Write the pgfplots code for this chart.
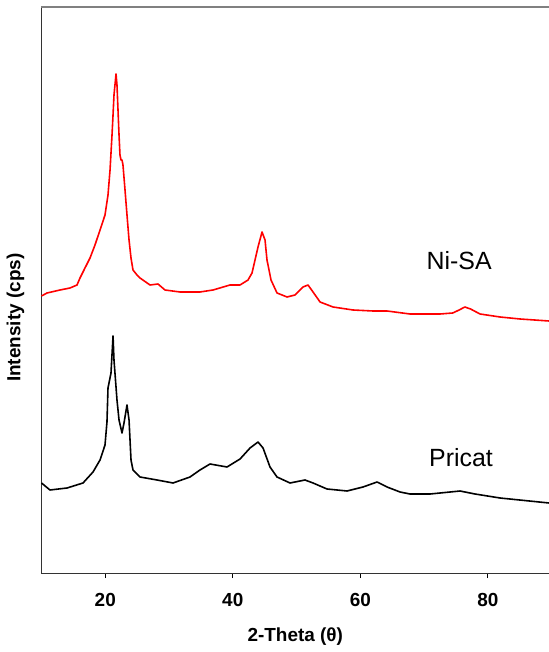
\documentclass[border=0pt]{standalone}
\usepackage{fontspec}
\setmainfont{Liberation Sans}
\usepackage{pgfplots}
\pgfplotsset{compat=1.18}
\begin{document}
\begin{tikzpicture}
\useasboundingbox (-41.5bp,-79bp) rectangle (507.5bp,573bp);
\begin{axis}[
  scale only axis,
  width=507.5bp, height=566bp,
  xmin=10, xmax=89.6, ymin=0, ymax=566,
  axis x line*=bottom, axis y line*=left,
  axis line style={black!80, line width=0.9pt},
  xtick={20,40,60,80},
  ytick=\empty,
  minor ytick={525,442,361,327,245,196,163},
  minor tick length=2.5bp,
  major tick length=5bp,
  tick align=inside,
  xtick style={yshift=-5bp, black, line width=0.8pt},
  /pgf/number format/assume math mode=true,
  ticklabel style={font=\bfseries\fontsize{19}{19}\selectfont},
  xticklabel shift=17bp,
  xlabel={2-Theta (θ)},
  ylabel={Intensity (cps)},
  label style={font=\bfseries\fontsize{19}{19}\selectfont},
  xlabel style={at={(axis description cs:0.5,0)}, anchor=center, yshift=-64bp},
  ylabel style={at={(axis description cs:-0.0512,0.451)}, anchor=center},
  clip=false,
]
\draw[gray, line width=1.2pt] (rel axis cs:0,1) -- (rel axis cs:1,1);
% Ni-SA
\addplot[red, line width=1.6pt, line join=round] coordinates {
(10.0,277) (10.86,280) (12.90,283) (14.47,285) (15.57,288) (16.04,295)
(16.82,305) (17.61,315) (18.39,328) (19.18,343) (19.96,358) (20.43,378)
(20.75,403) (21.06,438) (21.22,458) (21.37,478) (21.69,499) (21.84,488)
(22.00,463) (22.16,438) (22.31,418) (22.47,413) (22.63,413) (22.78,408)
(23.10,383) (23.41,358) (23.73,333) (24.04,315) (24.35,303) (24.98,298)
(25.45,295) (27.02,288) (28.27,289) (29.37,283) (31.73,281) (34.86,281)
(36.90,283) (39.57,288) (41.14,288) (42.39,293) (43.02,300) (43.49,313)
(43.96,326) (44.59,341) (45.06,333) (45.37,313) (46.00,293) (46.94,280)
(48.51,276) (49.76,278) (51.02,286) (51.80,288) (52.59,281) (53.69,271)
(55.73,266) (58.86,263) (62.00,262) (64.20,262) (67.80,259) (72.51,259)
(74.5,260) (75.5,263) (76.4,266) (77.3,264) (78.78,259) (81.92,256) (85.06,254)
(89.6,252)
};
% Pricat
\addplot[black, line width=1.6pt, line join=round] coordinates {
(10.0,90) (11.33,83) (14.0,85) (16.51,90) (18.08,101) (19.18,113)
(19.96,128) (20.27,151) (20.43,185) (20.90,200) (21.22,237) (21.37,213)
(21.84,173) (22.16,153) (22.63,140) (22.94,150) (23.41,168) (23.73,153)
(24.04,113) (24.35,103) (25.45,96) (28.12,93) (30.63,90) (33.29,96)
(34.86,103) (36.43,109) (39.10,106) (41.14,114) (42.71,125) (43.96,131)
(44.75,125) (45.84,106) (46.94,96) (48.98,90) (51.33,93) (52.59,90)
(54.78,84) (57.92,82) (60.43,86) (62.63,91) (64.20,86) (66.24,81)
(67.80,79) (70.94,79) (75.65,82) (78.00,79) (81.92,75) (89.6,70)
};
\node[font=\fontsize{25}{25}\selectfont] at (axis cs:75.5,312.5) {Ni-SA};
\node[font=\fontsize{25}{25}\selectfont] at (axis cs:75.8,115.5) {Pricat};
\end{axis}
\end{tikzpicture}
\end{document}
